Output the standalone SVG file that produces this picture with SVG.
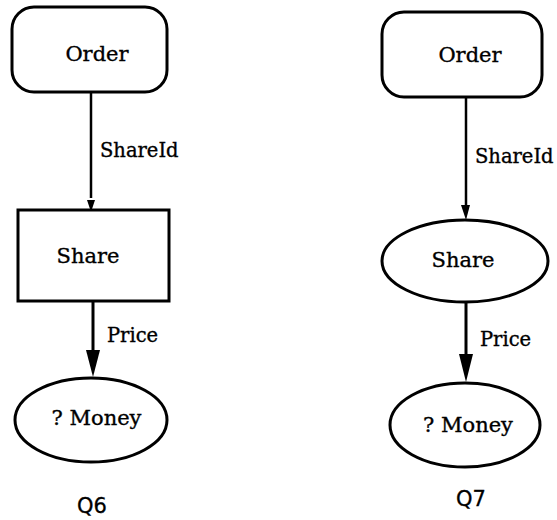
<svg xmlns="http://www.w3.org/2000/svg" width="557" height="520" viewBox="0 0 557 520">
<defs>
<style>
.n{fill:#fff;stroke:#000;stroke-width:3}
.t{font-family:"DejaVu Serif","Liberation Serif",serif;font-size:21px;fill:#000;stroke:#000;stroke-width:0.35;text-anchor:middle}
.l{font-family:"DejaVu Serif","Liberation Serif",serif;font-size:19.5px;fill:#000;stroke:#000;stroke-width:0.35}
.q{font-family:"DejaVu Sans","Liberation Sans",sans-serif;font-size:21px;fill:#000;stroke:#000;stroke-width:0.3;text-anchor:middle}
.e{stroke:#000;fill:none}
</style>
</defs>
<g id="connectors">
<line class="e" x1="91" y1="92" x2="91" y2="198" stroke-width="2.5"/>
<path d="M87,200 L95,200 L91,212 Z" fill="#000"/>
<line class="e" x1="93" y1="301" x2="93" y2="352" stroke-width="3"/>
<path d="M86,350 L100,350 L93,377 Z" fill="#000"/>
<line class="e" x1="466" y1="97" x2="466" y2="206" stroke-width="2.5"/>
<path d="M461,205 L470,205 L466,220 Z" fill="#000"/>
<line class="e" x1="466" y1="303" x2="466" y2="356" stroke-width="3"/>
<path d="M459,354 L473,354 L466,382 Z" fill="#000"/>
<text class="l" x="100" y="157">ShareId</text>
<text class="l" x="107" y="342">Price</text>
<text class="l" x="475" y="163">ShareId</text>
<text class="l" x="480" y="346">Price</text>
</g>
<g id="q6-order"><rect class="n" x="12" y="7" width="155" height="85" rx="22"/><text class="t" x="97" y="61">Order</text></g>
<g id="q6-share"><rect class="n" x="18" y="210" width="151" height="91"/><text class="t" x="88" y="263">Share</text></g>
<g id="q6-money"><ellipse class="n" cx="91" cy="420" rx="76" ry="42"/><text class="t" x="96.5" y="425">? Money</text></g>
<g id="q6-label"><text class="q" x="92" y="513">Q6</text></g>
<g id="q7-order"><rect class="n" x="382" y="12" width="160" height="85" rx="22"/><text class="t" x="470" y="62">Order</text></g>
<g id="q7-share"><ellipse class="n" cx="465" cy="261" rx="83" ry="41"/><text class="t" x="463" y="267">Share</text></g>
<g id="q7-money"><ellipse class="n" cx="465" cy="425" rx="75" ry="42"/><text class="t" x="468" y="432">? Money</text></g>
<g id="q7-label"><text class="q" x="471" y="506">Q7</text></g>
</svg>
